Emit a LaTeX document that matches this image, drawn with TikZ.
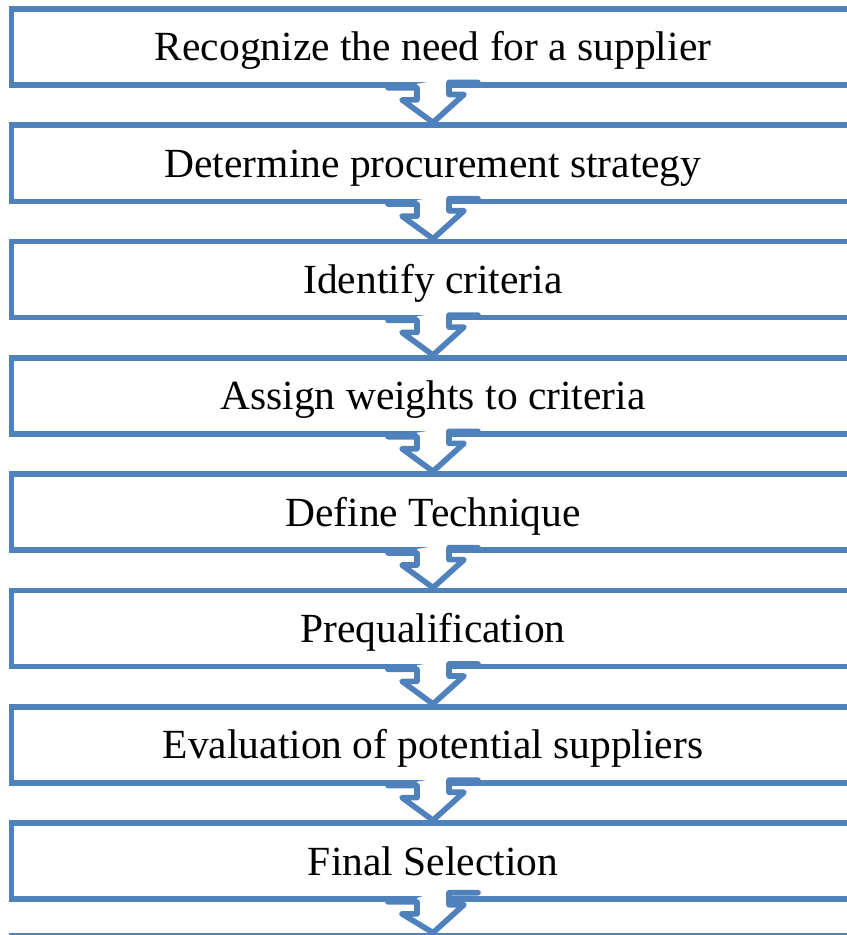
\documentclass[tikz,border=0pt]{standalone}
\usepackage{fontspec}
\setmainfont{Liberation Serif}
\usepackage{tikz}

\definecolor{stepblue}{RGB}{79,129,189}

% block arrow from the bottom of one box to the top of the next
\newcommand{\chevron}[2]{%
  \fill[white] (#1.south) ++(-16,-4) -- ++(0,16) -- ++(-15,0) -- (#2.north)
    -- ++(31,-28) -- ++(-15,0) -- ++(0,-16) -- cycle;
  \draw[arrowline] (#1.south) ++(-45,0) -- ++(29,0) -- ++(0,12) -- ++(-15,0)
    -- (#2.north) -- ++(31,-28) -- ++(-15,0) -- ++(0,-12) -- ++(29,0);
}

\begin{document}
\begin{tikzpicture}[x=0.025cm, y=-0.025cm]
  % Define styles
  \tikzstyle{stepbox} = [rectangle, draw=stepblue, line width=4pt, fill=white, minimum width=21.075cm, minimum height=1.9cm, inner sep=0pt, text height=26.3pt, text depth=6.4pt, font=\fontsize{29.5}{34}\selectfont]
  \tikzstyle{arrowline} = [draw=stepblue, line width=4pt, line join=round, line cap=round]

  \useasboundingbox (0,0) rectangle (847,935);
  \clip (0,0) rectangle (847,935);

  % Selection steps
  \node[stepbox] (need) at (433,47) {Recognize the need for a supplier};
  \node[stepbox] (strategy) at (433,163.3) {Determine procurement strategy};
  \node[stepbox] (criteria) at (433,279.6) {Identify criteria};
  \node[stepbox] (weights) at (433,395.9) {Assign weights to criteria};
  \node[stepbox] (technique) at (433,512.2) {Define Technique};
  \node[stepbox] (prequal) at (433,628.5) {Prequalification};
  \node[stepbox] (evaluation) at (433,744.8) {Evaluation of potential suppliers};
  \node[stepbox] (selection) at (433,861.1) {Final Selection};
  \node[stepbox] (next) at (433,973.5) {};

  % Arrows
  \chevron{need}{strategy}
  \chevron{strategy}{criteria}
  \chevron{criteria}{weights}
  \chevron{weights}{technique}
  \chevron{technique}{prequal}
  \chevron{prequal}{evaluation}
  \chevron{evaluation}{selection}
  \chevron{selection}{next}
\end{tikzpicture}
\end{document}
